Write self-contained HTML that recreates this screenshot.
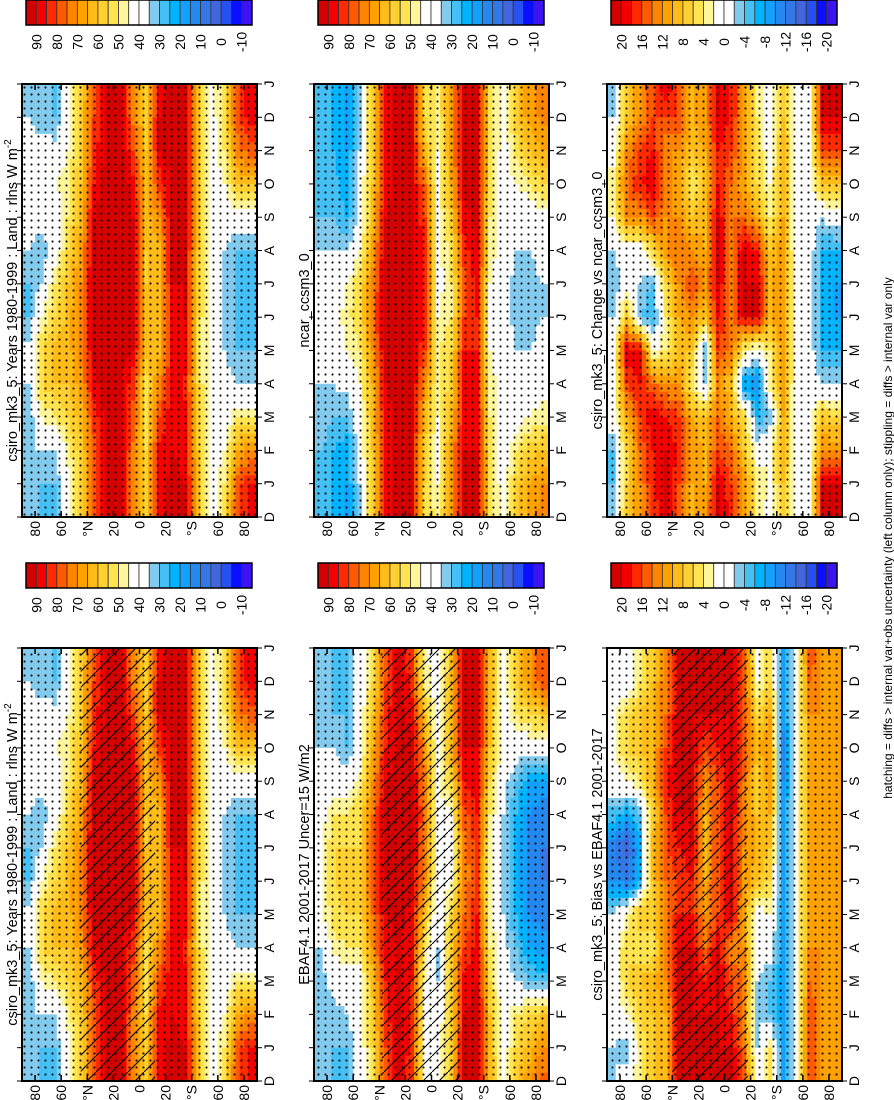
<!DOCTYPE html>
<html><head><meta charset="utf-8"><style>
html,body{margin:0;padding:0;background:#fff;}
svg{display:block;font-family:"Liberation Sans",Arial,sans-serif;}
</style></head><body>
<svg id="fig" width="894" height="1100" viewBox="0 0 894 1100" xmlns="http://www.w3.org/2000/svg">
<defs>
<pattern id="dots" width="7" height="7" patternUnits="userSpaceOnUse"><circle cx="3.5" cy="3.5" r="1.1" fill="#000"/></pattern>
<pattern id="hatch" width="16" height="16" patternUnits="userSpaceOnUse"><path d="M-2,18 L18,-2" stroke="#000" stroke-width="1.1"/></pattern>
</defs>
<g id="root"></g>
<text x="892" y="538" font-size="12" text-anchor="middle" transform="rotate(-90 892 538)">hatching = diffs &gt; internal var+obs uncertainty (left column only); stippling = diffs &gt; internal var only</text>
</svg>
<script>
const months = ["D","J","F","M","A","M","J","J","A","S","O","N","D","J"];
const latTicks = ["80","60","°N","20","0","20","°S","60","80"];
const latTickVals = [80,60,40,20,0,-20,-40,-60,-80];
const absTicks = ["90","80","70","60","50","40","30","20","10","0","-10"];
const diffTicks = ["20","16","12","8","4","0","-4","-8","-12","-16","-20"];
const colors = ['#d40000','#f50000','#ff2a00','#ff5a00','#ff8400','#ffa200','#ffbb18','#ffd030','#ffe450','#fff59a','#ffffff','#ffffff','#82cbee','#45c0f5','#00b4ff','#14a0ff','#2488f0','#3478e8','#4466dc','#2850f0','#0a10ff','#3c14f4'];

// rows: latitude bands 90-80N ... 80-90S ; columns: months D..J
const csiro = [
[35,35,35,30,35,38,30,30,35,38,38,38,35,35],
[30,30,35,45,55,55,45,35,30,40,40,38,32,30],
[30,30,35,50,60,62,55,50,40,40,45,38,30,30],
[40,42,48,55,60,62,62,60,55,50,48,45,40,40],
[58,58,58,62,68,72,72,70,68,62,60,58,58,58],
[78,78,78,82,88,92,94,94,92,90,85,82,80,78],
[92,92,92,92,95,95,95,95,95,95,95,92,92,92],
[92,92,92,92,92,92,95,95,95,95,95,95,92,92],
[72,72,74,78,82,90,92,92,92,90,88,80,74,72],
[60,58,55,55,52,62,62,60,60,62,62,60,60,60],
[88,88,86,80,72,64,62,60,64,70,82,90,90,88],
[92,92,90,88,88,85,88,90,90,92,92,92,92,92],
[90,90,88,86,84,88,90,90,90,90,90,90,90,90],
[62,62,60,58,55,55,55,58,60,62,62,62,62,62],
[40,40,40,40,40,40,40,40,40,40,40,40,40,40],
[55,50,45,40,38,35,35,35,35,38,45,50,55,55],
[80,78,65,50,35,30,30,30,30,40,60,72,80,80],
[88,85,70,50,35,30,30,30,30,40,62,78,88,88]];
const ncar = [
[30,30,30,35,35,40,40,38,35,30,30,30,30,30],
[25,25,25,30,35,40,42,40,35,30,28,25,25,25],
[20,20,22,30,38,45,48,45,35,25,22,20,20,20],
[35,35,38,42,45,50,55,55,45,38,38,35,35,35],
[60,60,60,62,65,70,75,72,68,62,60,60,60,60],
[88,88,88,88,90,92,95,95,92,90,88,88,88,88],
[92,92,92,92,92,95,95,95,95,92,92,92,92,92],
[90,90,90,90,92,92,92,92,92,92,90,90,90,90],
[55,55,58,62,70,80,85,85,85,80,75,62,55,55],
[48,45,45,45,48,50,45,42,42,45,45,45,48,48],
[70,70,70,62,58,55,50,50,52,58,65,68,70,70],
[92,92,90,88,88,85,80,78,82,88,92,92,92,92],
[92,92,90,88,86,85,85,88,90,92,92,92,92,92],
[55,55,52,50,48,45,45,45,48,50,52,55,55,55],
[40,40,40,40,40,40,40,40,40,40,40,40,40,40],
[60,58,50,42,38,35,32,32,35,38,45,52,60,60],
[68,65,58,45,40,35,32,32,35,40,50,60,68,68],
[72,70,60,48,42,38,35,35,38,42,55,65,72,72]];
const ebaf = [
[35,35,35,32,35,45,45,45,40,38,35,32,35,35],
[30,30,32,38,48,52,55,55,50,40,35,30,30,30],
[30,30,35,40,50,55,58,55,50,40,30,30,30,30],
[38,40,40,42,50,55,58,55,55,48,40,38,38,38],
[55,55,58,62,70,75,78,80,75,70,65,60,55,55],
[80,80,82,85,88,90,92,92,92,90,85,82,80,80],
[92,92,92,90,90,92,92,92,92,92,92,92,92,92],
[80,82,85,85,88,88,92,92,92,92,92,88,82,80],
[45,45,45,45,50,60,70,72,75,72,68,60,48,45],
[42,40,38,35,35,38,40,40,42,45,42,40,42,42],
[60,58,58,60,60,55,45,42,45,55,65,65,62,60],
[92,92,90,88,80,75,72,72,78,85,90,92,92,92],
[92,92,92,90,88,85,80,82,85,88,90,92,92,92],
[65,62,60,55,50,48,45,48,50,55,60,62,65,65],
[40,40,40,38,38,35,35,35,35,38,40,40,40,40],
[60,55,50,35,30,25,22,22,25,30,40,50,58,60],
[70,62,55,30,20,15,12,12,15,20,40,55,70,70],
[78,70,60,28,18,12,10,10,12,18,40,58,78,78]];
const bias = [
[-2,-2,0,0,0,-2,-10,-12,-5,0,2,2,0,-2],
[0,-4,2,6,6,2,-12,-15,-8,2,6,6,-2,0],
[4,4,6,8,4,8,-6,-8,-4,4,8,8,4,4],
[8,8,8,10,4,8,8,10,6,10,10,10,8,8],
[10,10,10,12,14,12,14,16,16,18,16,14,14,12],
[20,20,20,20,20,18,16,18,20,20,20,20,20,20],
[20,20,20,20,20,18,18,20,20,20,20,20,20,20],
[20,20,20,18,14,12,10,10,10,12,16,20,20,20],
[20,20,20,20,20,16,16,16,16,16,18,20,20,20],
[20,20,18,16,12,20,20,20,20,20,20,20,20,20],
[16,14,12,14,12,10,12,12,14,14,16,16,16,16],
[0,-2,-2,-2,0,0,8,10,8,6,10,6,2,0],
[6,4,-4,-4,0,2,6,8,10,12,12,10,6,6],
[-8,-8,-8,-8,-8,-8,-8,-8,-8,-10,-12,-8,-8,-8],
[0,0,0,0,0,0,0,0,0,0,0,0,0,0],
[16,16,16,14,12,12,12,12,12,12,12,12,14,16],
[12,12,12,12,12,12,12,12,12,12,12,12,12,12],
[12,12,12,12,12,12,12,12,12,12,12,12,12,12]];
const change = [
[-2,-4,-4,0,0,0,-2,-4,-2,2,4,0,-2,-2],
[8,6,6,10,16,20,8,0,0,12,14,12,8,8],
[12,12,14,16,18,20,-4,-2,0,12,18,16,12,12],
[16,18,18,20,14,2,-6,-4,6,16,20,18,16,16],
[20,20,20,18,12,4,4,6,12,12,14,12,16,20],
[16,16,18,16,12,8,10,12,14,12,10,12,16,16],
[10,10,12,10,4,8,12,16,12,8,4,8,10,10],
[12,10,10,8,-2,-4,8,12,10,10,8,10,12,12],
[20,20,16,14,12,16,18,20,20,20,18,18,20,20],
[18,16,14,10,8,14,14,14,14,14,14,16,18,18],
[12,12,8,6,-8,4,20,20,20,14,10,12,12,12],
[4,4,0,-6,-10,0,20,20,18,10,6,6,4,4],
[0,2,2,-4,4,4,10,10,8,4,2,0,0,0],
[8,8,10,10,12,12,12,12,12,10,10,10,8,8],
[0,0,0,0,0,0,0,0,0,0,0,0,0,0],
[0,0,0,0,0,0,0,0,0,0,0,0,0,0],
[20,20,12,8,-2,-6,-6,-6,-6,-2,8,16,20,20],
[20,20,12,6,-2,-6,-8,-8,-6,0,8,16,20,20]];

const NS="http://www.w3.org/2000/svg";
const root=document.getElementById('root');
function mk(tag,attrs,parent){const e=document.createElementNS(NS,tag);for(const k in attrs)e.setAttribute(k,attrs[k]);(parent||root).appendChild(e);return e;}
function colorIdx(v){if(v>=90)return 0;return Math.max(0,Math.min(21,Math.floor((90-v)/5)+1));}

const panels=[
 {name:'csiro-climatology-panel',data:csiro,diff:false,x:22,y:84,title:'csiro_mk3_5: Years 1980-1999 : Land : rlns W m',sup:true,hatch:null,tx:17},
 {name:'csiro-climatology-panel-2',data:csiro,diff:false,x:22,y:648,title:'csiro_mk3_5: Years 1980-1999 : Land : rlns W m',sup:true,hatch:[45,-12],tx:17},
 {name:'ncar-climatology-panel',data:ncar,diff:false,x:314,y:84,title:'ncar_ccsm3_0',hatch:null,tx:309},
 {name:'ebaf-observation-panel',data:ebaf,diff:false,x:314,y:648,title:'EBAF4.1 2001-2017 Uncer=15 W/m2',hatch:[38,-22],tx:309},
 {name:'change-panel',data:change,diff:true,x:607,y:84,title:'csiro_mk3_5: Change vs ncar_ccsm3_0',hatch:null,tx:602},
 {name:'bias-panel',data:bias,diff:true,x:607,y:648,title:'csiro_mk3_5: Bias vs EBAF4.1 2001-2017',hatch:[40,-18],tx:602}
];
const PW=235, PH=433;
function latX(p,lat){return p.x+(90-lat)/180*PW;}
function monY(p,m){return p.y+PH-m*PH/13;}
function sample(d,bf,mf){
  bf=Math.max(0,Math.min(17,bf));mf=Math.max(0,Math.min(13,mf));
  const b0=Math.floor(bf),b1=Math.min(17,b0+1),m0=Math.floor(mf),m1=Math.min(13,m0+1);
  const tb=bf-b0,tm=mf-m0;
  const a=d[b0][m0]*(1-tm)+d[b0][m1]*tm, c=d[b1][m0]*(1-tm)+d[b1][m1]*tm;
  return a*(1-tb)+c*tb;
}
panels.forEach(p=>{
  const g=mk('g',{});
  
  
  const NC=54, NR=52, cw=PW/NC, ch=PH/NR;
  for(let i=0;i<NC;i++){for(let j=0;j<NR;j++){
    const lat=90-(i+0.5)*180/NC;
    const bf=(90-lat)/10-0.5;
    const mf=13-(j+0.5)*13/NR;
    let v=sample(p.data,bf,mf);
    if(p.diff)v=40+2.5*v;
    const r=mk('rect',{x:(p.x+i*cw).toFixed(2),y:(p.y+j*ch).toFixed(2),width:(cw+0.4).toFixed(2),height:(ch+0.4).toFixed(2),fill:colors[colorIdx(v)]},g);
    
    
  }}
  const st=mk('rect',{x:p.x,y:p.y,width:PW,height:PH,fill:'url(#dots)',opacity:0.9},g);
  
  
  if(p.hatch){
    const hx=latX(p,p.hatch[0]),hx2=latX(p,p.hatch[1]);
    const h=mk('rect',{x:hx,y:p.y,width:hx2-hx,height:PH,fill:'url(#hatch)'},g);
    
    
  }
  const fr=mk('rect',{x:p.x,y:p.y,width:PW,height:PH,fill:'none',stroke:'#000','stroke-width':2},g);
  
  
  months.forEach((m,i)=>{
    const y=monY(p,i);
    mk('line',{x1:p.x+PW,y1:y,x2:p.x+PW+5,y2:y,stroke:'#000'},g);
    mk('line',{x1:p.x,y1:y,x2:p.x-5,y2:y,stroke:'#000'},g);
    const t=mk('text',{x:p.x+PW+17,y:y,'font-size':14,'text-anchor':'middle',transform:`rotate(-90 ${p.x+PW+17} ${y})`},g);
    t.textContent=m;
    
    
  });
  latTicks.forEach((l,i)=>{
    const x=latX(p,latTickVals[i]);
    mk('line',{x1:x,y1:p.y,x2:x,y2:p.y+6,stroke:'#000','stroke-width':1.5},g);
    mk('line',{x1:x,y1:p.y+PH,x2:x,y2:p.y+PH-6,stroke:'#000','stroke-width':1.5},g);
    const t=mk('text',{x:x+5,y:p.y+PH+4,'font-size':14,'text-anchor':'end',transform:`rotate(-90 ${x+5} ${p.y+PH+4})`},g);
    t.textContent=l;
    
    
  });
  const cy=p.y+PH/2;
  const tt=mk('text',{x:p.tx,y:cy,'font-size':14.5,'text-anchor':'middle',transform:`rotate(-90 ${p.tx} ${cy})`},g);
  tt.textContent=p.title;
  if(p.sup){const s=mk('tspan',{dy:-6,'font-size':10},tt);s.textContent='-2';}
  
  
  const cbx=p.x+4, cby=p.y-84+(p.y>300?-1:0), cbw=226, bw=cbw/22;
  const cb=mk('g',{});
  
  
  colors.forEach((c,k)=>{mk('rect',{x:cbx+k*bw,y:cby,width:bw,height:25,fill:c,stroke:'#333','stroke-width':0.8},cb);});
  mk('rect',{x:cbx,y:cby,width:cbw,height:25,fill:'none',stroke:'#000','stroke-width':1.5},cb);
  const labs=p.diff?diffTicks:absTicks;
  labs.forEach((l,k)=>{
    const x=cbx+(2*k+1)*bw+5, y=cby+42;
    const t=mk('text',{x:x,y:y,'font-size':14,'text-anchor':'middle',transform:`rotate(-90 ${x} ${y})`},cb);
    t.textContent=l;
    
    
  });
});
</script>
</body></html>
